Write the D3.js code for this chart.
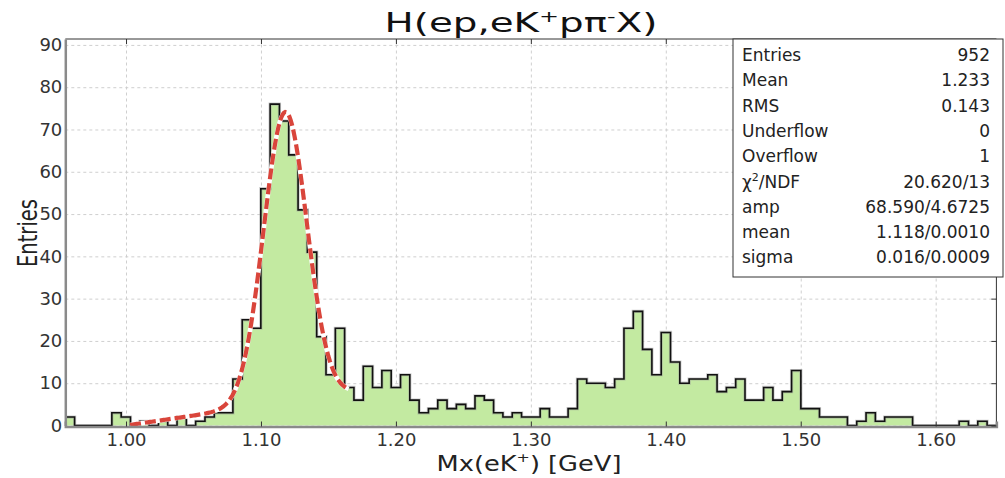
<!DOCTYPE html>
<html>
<head>
<meta charset="utf-8">
<script src="https://cdn.jsdelivr.net/npm/d3@7"></script>
<style>
  html, body { margin: 0; padding: 0; background: #fff; }
  svg { display: block; font-family: "DejaVu Sans", Lato, sans-serif; }
</style>
</head>
<body>
<svg id="chart" width="1005" height="478"></svg>
<script>
// Histogram binning: 100 equal bins
const binLow = 0.955;
const binHigh = 1.645;

// Counts per bin, left to right
const counts = [
  2, 0, 0, 0, 0, 3, 2, 0, 1, 0,
  1, 0, 2, 0, 1, 2, 3, 3, 11, 25,
  23, 56, 76, 72, 64, 51, 41, 21, 12, 23,
  9, 6, 14, 9, 13, 9, 12, 6, 3, 4,
  6, 4, 5, 4, 7, 6, 3, 2, 3, 2,
  2, 4, 2, 2, 4, 11, 10, 10, 9, 11,
  23, 27, 18, 12, 22, 15, 10, 11, 11, 12,
  8, 9, 11, 6, 6, 9, 6, 8, 13, 4,
  4, 2, 2, 2, 0, 1, 3, 1, 2, 2,
  2, 0, 0, 0, 0, 0, 1, 0, 1, 0
];

const xTicks = [1.0, 1.1, 1.2, 1.3, 1.4, 1.5, 1.6];
const yTicks = [0, 10, 20, 30, 40, 50, 60, 70, 80, 90];
const yMax = 91.4;

// Fit: gaussian peak on a linear background, over the fit window
const fitAmp = 68.590;
const fitMean = 1.118;
const fitSigma = 0.016;
const fitWindow = [1.003, 1.165];
const bgOrigin = 1.0;
const bgSlope = 47;

// Statistics box rows
const statNames = ["Entries", "Mean", "RMS", "Underflow", "Overflow", "χ²/NDF", "amp", "mean", "sigma"];
const statValues = ["952", "1.233", "0.143", "0", "1", "20.620/13", "68.590/4.6725", "1.118/0.0010", "0.016/0.0009"];

const svg = d3.select("#chart");
const plotL = 65.3, plotR = 996.4, plotT = 39, plotB = 425.5;

const x = d3.scaleLinear().domain([binLow, binHigh]).range([plotL, plotR]);
const y = d3.scaleLinear().domain([0, yMax]).range([plotB, plotT]);

// stretch a text horizontally so it spans the given width, keeping its centre
function fitWidth(sel, width, cx) {
  const w = sel.node().getBBox().width;
  const k = width / w;
  sel.attr("transform", `translate(${cx},0) scale(${k},1) translate(${-cx},0)`);
}

// dashed grid
const grid = svg.append("g").attr("class", "grid");
grid.append("g")
  .attr("transform", `translate(0,${plotB})`)
  .call(d3.axisBottom(x).tickValues(xTicks).tickSize(-(plotB - plotT)).tickFormat(""))
  .call(g => g.select(".domain").remove())
  .call(g => g.selectAll("line").attr("stroke", "#cfcfcf").attr("stroke-dasharray", "3,3").attr("stroke-width", 1));
grid.append("g")
  .attr("transform", `translate(${plotL},0)`)
  .call(d3.axisLeft(y).tickValues(yTicks).tickSize(-(plotR - plotL)).tickFormat(""))
  .call(g => g.select(".domain").remove())
  .call(g => g.selectAll("line").attr("stroke", "#cfcfcf").attr("stroke-dasharray", "3,3").attr("stroke-width", 1));

// histogram as a filled step outline
const binWidth = (binHigh - binLow) / counts.length;
const steps = [];
counts.forEach((c, i) => {
  steps.push([binLow + i * binWidth, c]);
  steps.push([binLow + (i + 1) * binWidth, c]);
});
const area = d3.area().x(d => x(d[0])).y0(y(0)).y1(d => y(d[1]));
const line = d3.line().x(d => x(d[0])).y(d => y(d[1]));
svg.append("path").datum(steps).attr("d", area).attr("fill", "#c3eaa1");
svg.append("path").datum(steps).attr("d", line)
  .attr("fill", "none").attr("stroke", "#9a9a9a").attr("stroke-width", 3.2).attr("stroke-opacity", 0.5);
svg.append("path").datum(steps).attr("d", line)
  .attr("fill", "none").attr("stroke", "#111").attr("stroke-width", 1.6);

// fit curve
const fitFn = v => fitAmp * Math.exp(-0.5 * Math.pow((v - fitMean) / fitSigma, 2)) + bgSlope * (v - bgOrigin);
const fitPts = d3.range(fitWindow[0], fitWindow[1] + 1e-9, 0.001).map(v => [v, fitFn(v)]);
svg.append("path").datum(fitPts).attr("d", line)
  .attr("fill", "none").attr("stroke", "#fff").attr("stroke-width", 4.6);
svg.append("path").datum(fitPts).attr("d", line)
  .attr("fill", "none").attr("stroke", "#d9453b").attr("stroke-width", 4.2)
  .attr("stroke-dasharray", "11,4");

// frame
svg.append("line").attr("x1", plotL).attr("x2", plotR).attr("y1", plotT).attr("y2", plotT).attr("stroke", "#333").attr("stroke-width", 1);
svg.append("line").attr("x1", plotR).attr("x2", plotR).attr("y1", plotT).attr("y2", plotB + 1).attr("stroke", "#333").attr("stroke-width", 1);

// axes
const xAxis = svg.append("g")
  .attr("transform", `translate(0,${plotB + 1})`)
  .call(d3.axisBottom(x).tickValues(xTicks).tickFormat(d3.format(".2f")).tickSize(-5).tickPadding(7));
xAxis.select(".domain").attr("stroke", "#8a8a8a").attr("stroke-width", 2.5);
xAxis.selectAll(".tick line").attr("stroke", "#333");
xAxis.selectAll("text").attr("font-size", 18).attr("fill", "#333").attr("font-family", "DejaVu Sans");

const yAxis = svg.append("g")
  .attr("transform", `translate(${plotL},0)`)
  .call(d3.axisLeft(y).tickValues(yTicks).tickSize(0).tickPadding(3));
yAxis.select(".domain").attr("stroke", "#8a8a8a").attr("stroke-width", 2.5);
yAxis.selectAll("text").attr("font-size", 18).attr("fill", "#333").attr("font-family", "DejaVu Sans");

// top ticks
svg.append("g").attr("transform", `translate(0,${plotT})`)
  .call(d3.axisTop(x).tickValues(xTicks).tickSize(-5).tickFormat(""))
  .call(g => g.select(".domain").remove())
  .call(g => g.selectAll("line").attr("stroke", "#333"));
// right ticks
svg.append("g").attr("transform", `translate(${plotR},0)`)
  .call(d3.axisRight(y).tickValues(yTicks).tickSize(-5).tickFormat(""))
  .call(g => g.select(".domain").remove())
  .call(g => g.selectAll("line").attr("stroke", "#333"));

// title
const title = svg.append("text").attr("x", 521).attr("y", 32)
  .attr("text-anchor", "middle").attr("font-size", 26).attr("fill", "#111");
title.append("tspan").text("H(ep,eK");
title.append("tspan").attr("dy", -10).attr("font-size", 16).text("+");
title.append("tspan").attr("dy", 10).text("pπ");
title.append("tspan").attr("dy", -10).attr("font-size", 16).text("-");
title.append("tspan").attr("dy", 10).text("X)");
fitWidth(title, 273, 521);

// axis titles
const xt = svg.append("text").attr("x", 529).attr("y", 471)
  .attr("text-anchor", "middle").attr("font-size", 21).attr("fill", "#222");
xt.append("tspan").text("Mx(eK");
xt.append("tspan").attr("dy", -9).attr("font-size", 13).text("+");
xt.append("tspan").attr("dy", 9).text(") [GeV]");
fitWidth(xt, 185, 529);

svg.append("text").attr("transform", "translate(37,233) rotate(-90)")
  .attr("text-anchor", "middle").attr("font-size", 27).attr("fill", "#222")
  .attr("textLength", 68).attr("lengthAdjust", "spacingAndGlyphs")
  .text("Entries");

// statistics box
const boxX = 733, boxY = 39, boxW = 270, boxH = 238;
svg.append("rect").attr("x", boxX).attr("y", boxY).attr("width", boxW).attr("height", boxH)
  .attr("fill", "#fff").attr("stroke", "#333").attr("stroke-width", 1);
const rowH = 25.3;
statNames.forEach((name, i) => {
  const ty = boxY + 22 + i * rowH;
  const t = svg.append("text").attr("x", boxX + 9).attr("y", ty)
    .attr("font-size", 17).attr("fill", "#222");
  if (name.startsWith("χ")) {
    t.append("tspan").text("χ");
    t.append("tspan").attr("dy", -7).attr("font-size", 11).text("2");
    t.append("tspan").attr("dy", 7).text("/NDF");
  } else {
    t.text(name);
  }
  svg.append("text").attr("x", boxX + boxW - 13).attr("y", ty)
    .attr("text-anchor", "end").attr("font-size", 17).attr("fill", "#222")
    .text(statValues[i]);
});
</script>
</body>
</html>
